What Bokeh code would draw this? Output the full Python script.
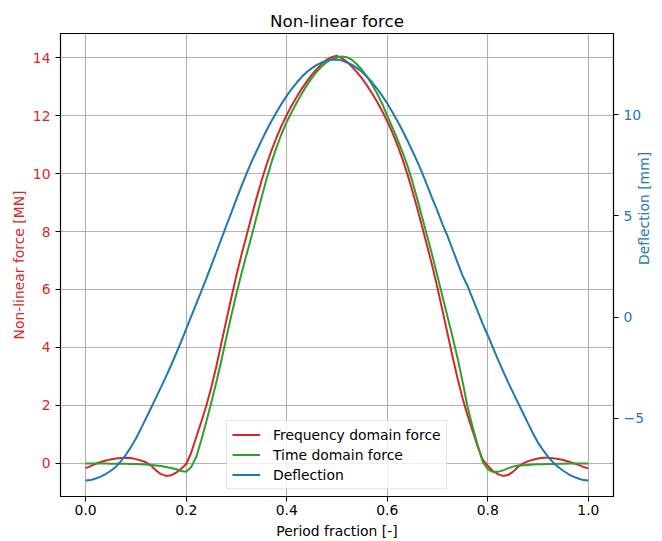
import math
from bokeh.plotting import figure
from bokeh.models import Range1d, LinearAxis, FixedTicker, Legend, LegendItem
from bokeh.embed import file_html
from bokeh.resources import INLINE

# ---------------- data ----------------
period_fraction = [0.00, 0.01, 0.02, 0.03, 0.04, 0.05, 0.06, 0.07, 0.08, 0.09,
                   0.10, 0.11, 0.12, 0.13, 0.14, 0.15, 0.16, 0.17, 0.18, 0.19,
                   0.20, 0.21, 0.22, 0.23, 0.24, 0.25, 0.26, 0.27, 0.28, 0.29,
                   0.30, 0.31, 0.32, 0.33, 0.34, 0.35, 0.36, 0.37, 0.38, 0.39,
                   0.40, 0.41, 0.42, 0.43, 0.44, 0.45, 0.46, 0.47, 0.48, 0.49,
                   0.50, 0.51, 0.52, 0.53, 0.54, 0.55, 0.56, 0.57, 0.58, 0.59,
                   0.60, 0.61, 0.62, 0.63, 0.64, 0.65, 0.66, 0.67, 0.68, 0.69,
                   0.70, 0.71, 0.72, 0.73, 0.74, 0.75, 0.76, 0.77, 0.78, 0.79,
                   0.80, 0.81, 0.82, 0.83, 0.84, 0.85, 0.86, 0.87, 0.88, 0.89,
                   0.90, 0.91, 0.92, 0.93, 0.94, 0.95, 0.96, 0.97, 0.98, 0.99, 1.00]

freq_force = [-0.16, -0.09, -0.01, 0.05, 0.10, 0.14, 0.17, 0.19, 0.20, 0.19,
              0.15, 0.10, 0.04, -0.07, -0.24, -0.37, -0.43, -0.41, -0.32, -0.18,
              -0.02, 0.37, 0.91, 1.44, 1.99, 2.63, 3.35, 4.15, 4.95, 5.73,
              6.50, 7.20, 7.85, 8.52, 9.16, 9.76, 10.31, 10.81, 11.26, 11.66,
              12.02, 12.35, 12.65, 12.93, 13.18, 13.41, 13.61, 13.79, 13.93, 14.02,
              14.06, 13.97, 13.85, 13.68, 13.49, 13.27, 13.03, 12.76, 12.47, 12.15,
              11.80, 11.42, 10.99, 10.51, 9.98, 9.40, 8.78, 8.12, 7.46, 6.78,
              6.04, 5.26, 4.47, 3.67, 2.92, 2.23, 1.64, 1.11, 0.57, 0.12,
              -0.08, -0.26, -0.37, -0.43, -0.40, -0.29, -0.12, 0.00, 0.08, 0.13,
              0.17, 0.20, 0.195, 0.18, 0.155, 0.12, 0.07, 0.01, -0.05, -0.12, -0.17]

time_force = [0.00, 0.00, 0.00, 0.00, 0.00, -0.01, -0.01, -0.01, -0.01, -0.02,
              -0.02, -0.03, -0.04, -0.05, -0.07, -0.09, -0.12, -0.16, -0.20, -0.26,
              -0.29, -0.12, 0.22, 0.80, 1.44, 2.10, 2.80, 3.55, 4.35, 5.12,
              5.85, 6.55, 7.20, 7.84, 8.50, 9.18, 9.82, 10.40, 10.92, 11.38,
              11.78, 12.12, 12.45, 12.76, 13.04, 13.30, 13.52, 13.70, 13.85, 13.95,
              14.01, 14.04, 14.01, 13.92, 13.76, 13.57, 13.33, 13.06, 12.75, 12.40,
              11.99, 11.60, 11.19, 10.75, 10.28, 9.72, 9.10, 8.45, 7.80, 7.15,
              6.45, 5.75, 5.05, 4.35, 3.62, 2.80, 1.93, 1.25, 0.62, 0.05,
              -0.20, -0.29, -0.29, -0.24, -0.17, -0.11, -0.07, -0.06, -0.05, -0.04,
              -0.03, -0.03, -0.02, -0.02, -0.01, -0.01, 0.00, 0.00, 0.00, 0.00, 0.00]

deflection = [-8.07, -8.05, -7.97, -7.88, -7.75, -7.59, -7.40, -7.12, -6.80, -6.42,
              -6.00, -5.51, -5.00, -4.49, -3.98, -3.46, -2.93, -2.38, -1.80, -1.21,
              -0.60, 0.03, 0.65, 1.27, 1.90, 2.55, 3.20, 3.86, 4.52, 5.17,
              5.82, 6.46, 7.08, 7.66, 8.20, 8.72, 9.22, 9.69, 10.12, 10.54,
              10.92, 11.27, 11.58, 11.86, 12.10, 12.29, 12.45, 12.57, 12.66, 12.71,
              12.72, 12.66, 12.57, 12.45, 12.29, 12.10, 11.86, 11.58, 11.27, 10.92,
              10.54, 10.12, 9.69, 9.22, 8.72, 8.20, 7.66, 7.08, 6.46, 5.82,
              5.23, 4.58, 3.99, 3.33, 2.68, 2.03, 1.52, 0.90, 0.28, -0.35,
              -0.91, -1.50, -2.09, -2.65, -3.20, -3.72, -4.23, -4.74, -5.25, -5.75,
              -6.21, -6.57, -6.90, -7.18, -7.40, -7.59, -7.75, -7.88, -7.97, -8.05, -8.07]

x_ticks = [0.0, 0.2, 0.4, 0.6, 0.8, 1.0]
x_tick_labels = ["0.0", "0.2", "0.4", "0.6", "0.8", "1.0"]
force_ticks = [0, 2, 4, 6, 8, 10, 12, 14]
defl_ticks = [-5, 0, 5, 10]
defl_tick_labels = ["\u22125", "0", "5", "10"]

series_labels = ["Frequency domain force", "Time domain force", "Deflection"]

RED = "#d62728"
GREEN = "#2ca02c"
BLUE = "#1f77b4"
FONT = "DejaVu Sans"
FS = "13.9px"

p = figure(width=662, height=541, output_backend="svg", toolbar_location=None,
           x_range=Range1d(-0.05, 1.05), y_range=Range1d(-1.14, 14.83),
           min_border_left=60, min_border_right=49, min_border_top=33,
           min_border_bottom=45)
p.extra_y_ranges = {"defl": Range1d(-8.86, 14.0)}

p.title.text = "Non-linear force"
p.title.align = "center"
p.title.text_font = FONT
p.title.text_font_size = "16.7px"
p.title.text_font_style = "normal"
p.title.text_color = "black"
p.title.standoff = 5

p.outline_line_color = "black"
p.outline_line_width = 1.1
p.background_fill_color = "white"
p.border_fill_color = "white"

# grids
p.xgrid.ticker = FixedTicker(ticks=x_ticks)
p.ygrid.ticker = FixedTicker(ticks=force_ticks)
for g in (p.xgrid[0], p.ygrid[0]):
    g.grid_line_color = "#b0b0b0"
    g.grid_line_width = 1.1

def style_axis(ax, color, label):
    ax.axis_label = label
    ax.axis_label_text_font = FONT
    ax.axis_label_text_font_size = FS
    ax.axis_label_text_font_style = "normal"
    ax.axis_label_text_color = color
    ax.major_label_text_font = FONT
    ax.major_label_text_font_size = FS
    ax.major_label_text_color = color
    ax.axis_line_color = "black"
    ax.axis_line_width = 1.1
    ax.major_tick_line_color = "black"
    ax.major_tick_line_width = 1.1
    ax.major_tick_out = 5
    ax.major_tick_in = 0
    ax.minor_tick_line_color = None

xa = p.xaxis[0]
xa.ticker = FixedTicker(ticks=x_ticks)
xa.major_label_overrides = dict(zip(x_ticks, x_tick_labels))
style_axis(xa, "black", "Period fraction [-]")
xa.major_label_standoff = 3
xa.axis_label_standoff = 5

ya = p.yaxis[0]
ya.ticker = FixedTicker(ticks=force_ticks)
style_axis(ya, RED, "Non-linear force [MN]")
ya.major_label_standoff = 5
ya.axis_label_standoff = 3

ra = LinearAxis(y_range_name="defl")
ra.ticker = FixedTicker(ticks=defl_ticks)
ra.major_label_overrides = dict(zip(defl_ticks, defl_tick_labels))
style_axis(ra, BLUE, "Deflection [mm]")
ra.axis_label_orientation = math.pi / 2   # read bottom to top, as in the reference
ra.major_label_standoff = 5
ra.axis_label_standoff = -3
p.add_layout(ra, "right")

r1 = p.line(period_fraction, freq_force, line_color=RED, line_width=2)
r2 = p.line(period_fraction, time_force, line_color=GREEN, line_width=2)
r3 = p.line(period_fraction, deflection, line_color=BLUE, line_width=2,
            y_range_name="defl")

legend = Legend(items=[LegendItem(label=series_labels[0], renderers=[r1]),
                       LegendItem(label=series_labels[1], renderers=[r2]),
                       LegendItem(label=series_labels[2], renderers=[r3])],
                location=(166, 7))
legend.label_text_font = FONT
legend.label_text_font_size = FS
legend.label_text_color = "black"
legend.glyph_width = 28
legend.glyph_height = 17
legend.label_height = 17
legend.spacing = 3
legend.padding = 5
legend.margin = 0
legend.label_standoff = 13
legend.border_line_color = "#cccccc"
legend.border_line_width = 1
legend.background_fill_color = "white"
legend.background_fill_alpha = 0.8
p.add_layout(legend, "center")

open("out.html", "w").write(file_html(p, INLINE))
